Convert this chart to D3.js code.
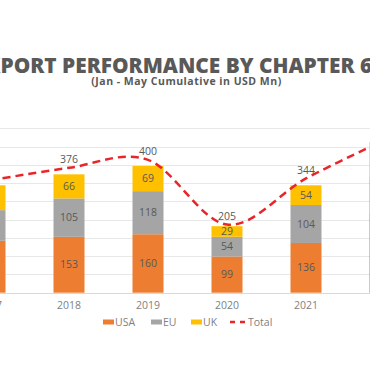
<!DOCTYPE html>
<html>
<head>
<meta charset="utf-8">
<script src="https://cdn.jsdelivr.net/npm/d3@7"></script>
<style>
  body { margin: 0; background: #fff; }
  svg { display: block; font-family: "Open Sans", sans-serif; }
</style>
</head>
<body>
<div id="chart"></div>
<script>
const TITLE    = "EXPORT PERFORMANCE BY CHAPTER 61";
const SUBTITLE = "(Jan - May Cumulative in USD Mn)";

const years  = ["2017", "2018", "2019", "2020", "2021", "2022"];
const usa    = [142, 153, 160, 99, 136, 218];
const eu     = [84, 105, 118, 54, 104, 99];
const uk     = [68, 66, 69, 29, 54, 96];
const total  = [338, 376, 400, 205, 344, 460];
const gridTicks = [0, 50, 100, 150, 200, 250, 300, 350, 400, 450];

const seriesNames  = ["USA", "EU", "UK"];
const seriesColors = ["#ED7D31", "#A5A5A5", "#FFC000"];
const LINE_COLOR   = "#E8262A";

const WIDTH   = 370;
const HEIGHT  = 370;
const BASE_Y  = 292.7;
const TOP_Y   = 128.3;
const BAR_W   = 31;

const rows = years.map((y, i) => ({ year: y, USA: usa[i], EU: eu[i], UK: uk[i], total: total[i] }));

const svg = d3.select("#chart").append("svg")
    .attr("width", WIDTH)
    .attr("height", HEIGHT);

svg.append("rect").attr("width", WIDTH).attr("height", HEIGHT).attr("fill", "#fff");

// the picture is a crop of a wider chart, so the first and last years sit off the edges
const x  = d3.scalePoint().domain(years).range([-10, 385]);
const y  = d3.scaleLinear().domain([0, 450]).range([BASE_Y, TOP_Y]);
const y2 = d3.scaleLinear().domain([0, 495]).range([BASE_Y, TOP_Y]);

// gridlines
svg.append("g")
    .selectAll("line")
    .data(gridTicks)
    .join("line")
    .attr("x1", 0)
    .attr("x2", WIDTH)
    .attr("y1", d => Math.round(y(d)) + 0.5)
    .attr("y2", d => Math.round(y(d)) + 0.5)
    .attr("stroke", d => d === 0 ? "#d9d9d9" : "#e8e8e8")
    .attr("stroke-width", 1);

// stacked bars
const stacked = d3.stack().keys(seriesNames)(rows);

const layers = svg.append("g")
    .selectAll("g")
    .data(stacked)
    .join("g")
    .attr("fill", (d, i) => seriesColors[i]);

layers.selectAll("rect")
    .data(d => d)
    .join("rect")
    .attr("x", d => x(d.data.year) - BAR_W / 2)
    .attr("width", BAR_W)
    .attr("y", d => y(d[1]))
    .attr("height", d => y(d[0]) - y(d[1]));

layers.selectAll("text")
    .data(d => d)
    .join("text")
    .attr("x", d => x(d.data.year))
    .attr("y", d => (y(d[0]) + y(d[1])) / 2 + 3.6)
    .attr("text-anchor", "middle")
    .attr("font-size", 10.5)
    .attr("fill", "#595959")
    .text(d => d[1] - d[0]);

// total line (smoothed, dashed)
const line = d3.line()
    .curve(d3.curveCardinal.tension(0))
    .x((d, i) => x(years[i]))
    .y(d => y2(d));

svg.append("path")
    .datum(total)
    .attr("fill", "none")
    .attr("stroke", LINE_COLOR)
    .attr("stroke-width", 2.5)
    .attr("stroke-dasharray", "8,5")
    .attr("d", line);

svg.append("g")
    .selectAll("text")
    .data(total)
    .join("text")
    .attr("x", (d, i) => x(years[i]))
    .attr("y", d => y2(d) - 4.5)
    .attr("text-anchor", "middle")
    .attr("font-size", 10.5)
    .attr("fill", "#595959")
    .text(d => d);

// year labels
svg.append("g")
    .selectAll("text")
    .data(years)
    .join("text")
    .attr("x", d => x(d))
    .attr("y", 309)
    .attr("text-anchor", "middle")
    .attr("font-size", 10.5)
    .attr("fill", "#7f7f7f")
    .text(d => d);

// title: cropped on both sides in the reference, "EX" falls off the left edge
// and the visible part "PORT ... 6" runs the full width
function measure(str, size) {
    const t = svg.append("text")
        .attr("font-size", size)
        .attr("font-weight", 800)
        .text(str);
    const w = t.node().getComputedTextLength();
    t.remove();
    return w;
}
const visW = measure("PORT PERFORMANCE BY CHAPTER 6", 20);
const titleSize = 20 * 372 / visW;
const exW = measure("EX", titleSize);

svg.append("text")
    .attr("x", -exW + 0.5)
    .attr("y", 72.5)
    .attr("font-size", titleSize)
    .attr("font-weight", 800)
    .attr("fill", "#595959")
    .text(TITLE);

svg.append("text")
    .attr("x", 186.5)
    .attr("y", 84.5)
    .attr("text-anchor", "middle")
    .attr("font-size", 10.5)
    .attr("font-weight", 700)
    .attr("letter-spacing", 0.5)
    .attr("fill", "#595959")
    .text(SUBTITLE);

// legend
const legendItems = [
    { name: "USA", color: seriesColors[0], x: 103, type: "bar" },
    { name: "EU", color: seriesColors[1], x: 151, type: "bar" },
    { name: "UK", color: seriesColors[2], x: 191, type: "bar" },
    { name: "Total", color: LINE_COLOR, x: 230, type: "line" }
];

const legend = svg.append("g")
    .selectAll("g")
    .data(legendItems)
    .join("g")
    .attr("transform", d => `translate(${d.x},322)`);

legend.filter(d => d.type === "bar")
    .append("rect")
    .attr("x", 0)
    .attr("y", -2.5)
    .attr("width", 11)
    .attr("height", 5)
    .attr("fill", d => d.color);

legend.filter(d => d.type === "line")
    .append("line")
    .attr("x1", 0)
    .attr("x2", 17)
    .attr("y1", 0)
    .attr("y2", 0)
    .attr("stroke", d => d.color)
    .attr("stroke-width", 2.5)
    .attr("stroke-dasharray", "5,5");

legend.append("text")
    .attr("x", d => d.type === "bar" ? 12 : 18)
    .attr("y", 3.8)
    .attr("font-size", 10.5)
    .attr("fill", "#7f7f7f")
    .text(d => d.name);
</script>
</body>
</html>
